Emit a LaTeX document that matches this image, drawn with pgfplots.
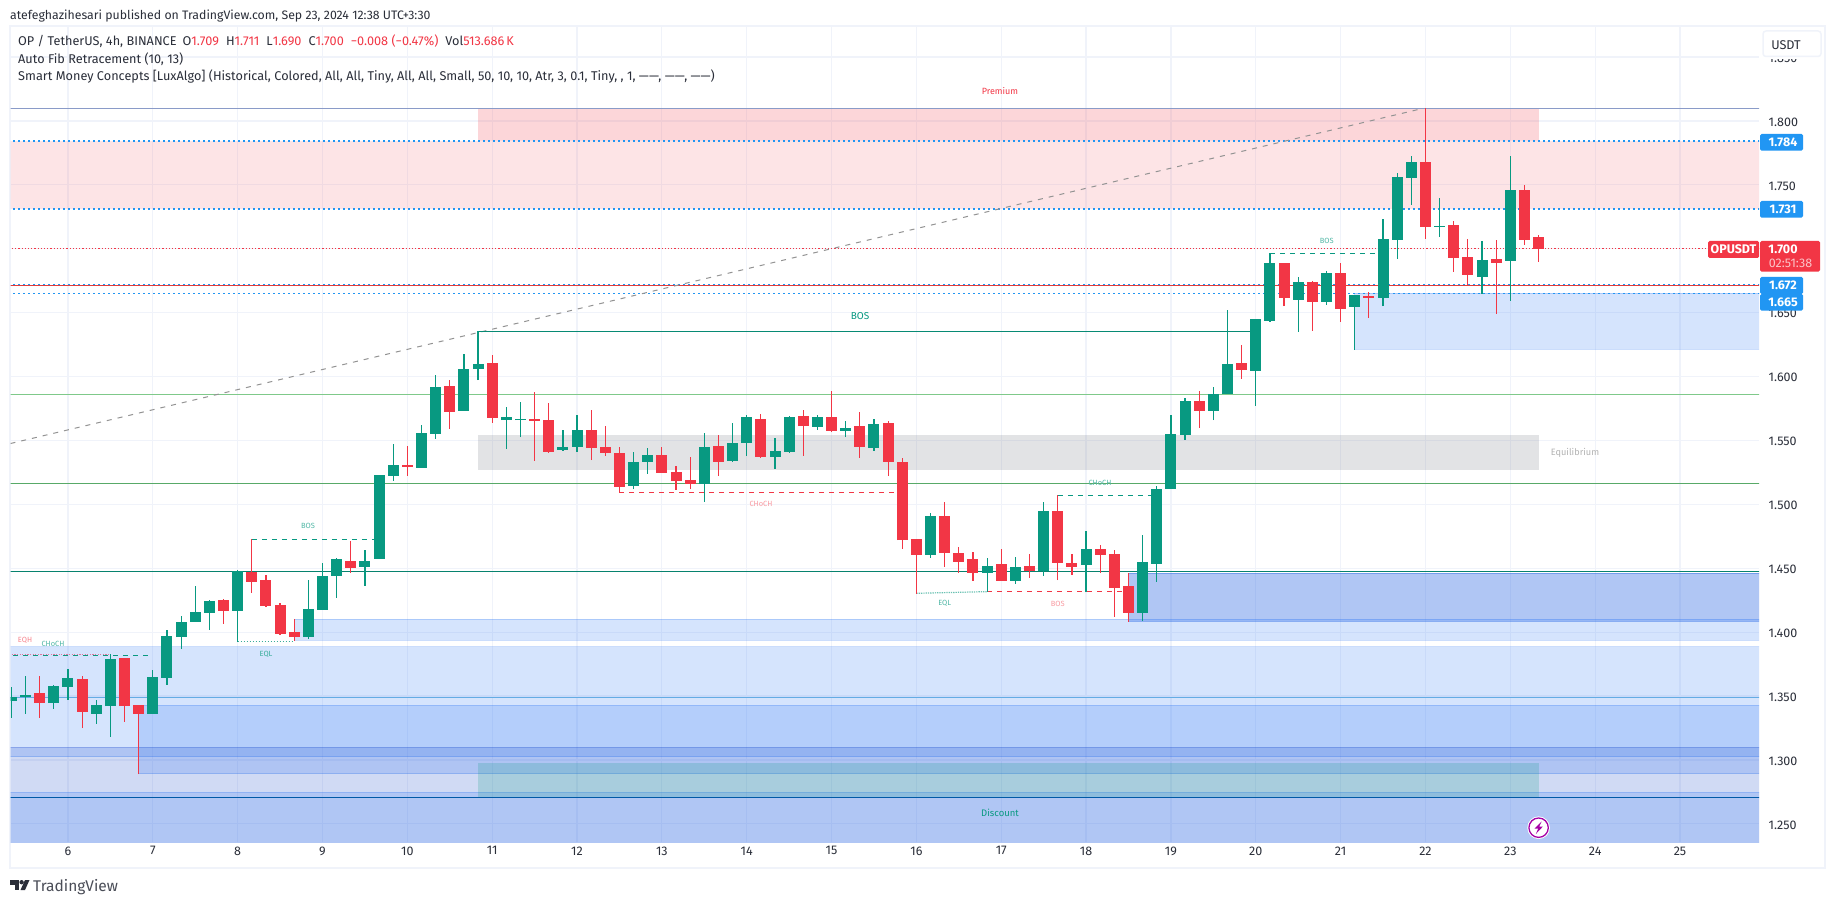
\documentclass[border=0pt]{standalone}
\usepackage{fontspec}
\usepackage{pgfplots}
\usepackage{pgfplotstable}
\pgfplotsset{compat=1.18}
\setmainfont{Fira Sans}

\definecolor{cup}{HTML}{089981}
\definecolor{cdn}{HTML}{F23645}
\definecolor{ob}{HTML}{3179F5}
\definecolor{swing}{HTML}{1848CC}
\definecolor{tvblue}{HTML}{2196F3}
\definecolor{tvgrid}{HTML}{F0F3FA}
\definecolor{tvtext}{HTML}{2A2E39}
\definecolor{eqgray}{HTML}{787B86}

% i = bar index (4h bars), h/l = wick, t/b = top and bottom of body
\pgfplotstableread{
i h l t b
0 1.3571 1.3329 1.3493 1.3462
1 1.3657 1.3360 1.3509 1.3493
3 1.3587 1.3399 1.3579 1.3446
4 1.3712 1.3470 1.3642 1.3571
6 1.3470 1.3282 1.3430 1.3360
7 1.3829 1.3180 1.3790 1.3422
10 1.3704 1.3360 1.3649 1.3360
11 1.4017 1.3587 1.3970 1.3642
12 1.4127 1.3869 1.4080 1.3962
13 1.4362 1.4080 1.4158 1.4080
14 1.4252 1.4017 1.4244 1.4150
16 1.4487 1.3923 1.4479 1.4166
21 1.4408 1.3947 1.4182 1.3962
22 1.4541 1.4174 1.4440 1.4174
23 1.4581 1.4268 1.4573 1.4440
25 1.4643 1.4362 1.4557 1.4510
26 1.5230 1.4573 1.5230 1.4573
27 1.5473 1.5183 1.5308 1.5222
29 1.5621 1.5285 1.5559 1.5285
30 1.6012 1.5512 1.5919 1.5551
32 1.6177 1.5731 1.6059 1.5731
33 1.6354 1.5973 1.6099 1.6059
35 1.5762 1.5433 1.5684 1.5660
36 1.5801 1.5527 1.5668 1.5660
39 1.5582 1.5418 1.5449 1.5426
40 1.5700 1.5410 1.5582 1.5449
44 1.5410 1.5120 1.5332 1.5144
45 1.5441 1.5238 1.5387 1.5332
49 1.5559 1.5019 1.5449 1.5160
51 1.5637 1.5332 1.5480 1.5340
52 1.5700 1.5379 1.5684 1.5480
54 1.5520 1.5277 1.5418 1.5371
55 1.5692 1.5402 1.5684 1.5410
57 1.5700 1.5582 1.5684 1.5606
59 1.5653 1.5527 1.5598 1.5574
61 1.5668 1.5418 1.5629 1.5441
65 1.4933 1.4581 1.4909 1.4604
69 1.4581 1.4317 1.4518 1.4463
71 1.4588 1.4377 1.4510 1.4401
73 1.5019 1.4440 1.4948 1.4476
76 1.4792 1.4317 1.4651 1.4526
80 1.4761 1.4088 1.4549 1.4150
81 1.5144 1.4393 1.5121 1.4534
82 1.5700 1.5121 1.5551 1.5121
83 1.5833 1.5504 1.5809 1.5543
85 1.5919 1.5660 1.5864 1.5731
86 1.6521 1.5864 1.6099 1.5864
88 1.6451 1.5770 1.6451 1.6044
89 1.6965 1.6427 1.6889 1.6435
91 1.6779 1.6349 1.6740 1.6599
93 1.6826 1.6560 1.6811 1.6584
95 1.6639 1.6208 1.6639 1.6545
97 1.7233 1.6552 1.7077 1.6615
98 1.7593 1.6920 1.7562 1.7069
99 1.7726 1.7343 1.7679 1.7554
101 1.7398 1.7092 1.7178 1.7171
104 1.7061 1.6646 1.6912 1.6779
106 1.7726 1.6592 1.7460 1.6905
}\upbars

\pgfplotstableread{
i h l t b
2 1.3657 1.3329 1.3524 1.3446
5 1.3657 1.3250 1.3634 1.3376
8 1.3798 1.3297 1.3798 1.3422
9 1.3430 1.2890 1.3430 1.3360
15 1.4260 1.4064 1.4252 1.4166
17 1.4727 1.4307 1.4474 1.4393
18 1.4448 1.4197 1.4408 1.4205
19 1.4228 1.3978 1.4213 1.3986
20 1.4103 1.3931 1.4002 1.3962
24 1.4714 1.4463 1.4557 1.4502
28 1.5457 1.5222 1.5308 1.5293
31 1.5973 1.5590 1.5926 1.5723
34 1.6169 1.5637 1.6106 1.5676
37 1.5880 1.5340 1.5668 1.5653
38 1.5793 1.5402 1.5660 1.5410
41 1.5739 1.5347 1.5582 1.5441
42 1.5613 1.5379 1.5449 1.5402
43 1.5449 1.5092 1.5402 1.5136
46 1.5449 1.5246 1.5387 1.5246
47 1.5300 1.5113 1.5254 1.5183
48 1.5371 1.5120 1.5191 1.5160
50 1.5543 1.5222 1.5457 1.5332
53 1.5707 1.5363 1.5668 1.5371
56 1.5739 1.5379 1.5692 1.5613
58 1.5887 1.5566 1.5684 1.5574
60 1.5723 1.5363 1.5613 1.5449
62 1.5653 1.5222 1.5637 1.5332
63 1.5363 1.4651 1.5332 1.4721
64 1.4729 1.4302 1.4729 1.4604
66 1.5019 1.4510 1.4909 1.4620
67 1.4667 1.4463 1.4620 1.4549
68 1.4628 1.4401 1.4573 1.4463
70 1.4651 1.4401 1.4534 1.4401
72 1.4612 1.4424 1.4518 1.4476
74 1.5074 1.4408 1.4948 1.4542
75 1.4612 1.4448 1.4542 1.4510
77 1.4682 1.4463 1.4651 1.4604
78 1.4643 1.4119 1.4612 1.4346
79 1.4463 1.4080 1.4362 1.4150
84 1.5887 1.5598 1.5809 1.5731
87 1.6247 1.5981 1.6106 1.6052
90 1.6889 1.6552 1.6889 1.6615
92 1.6748 1.6357 1.6740 1.6584
94 1.6889 1.6427 1.6811 1.6529
96 1.6662 1.6459 1.6631 1.6615
100 1.8099 1.7077 1.7679 1.7171
102 1.7218 1.6819 1.7186 1.6928
103 1.7077 1.6714 1.6936 1.6795
105 1.7069 1.6490 1.6920 1.6889
107 1.7499 1.7030 1.7460 1.7069
108 1.7110 1.6900 1.7090 1.7000
}\downbars

\pgfplotsset{
  zone/.style args={#1/#2}{draw=#1, draw opacity=0.25, fill=#1, fill opacity=#2, line width=1pt, mark=none},
  flat/.style={draw=#1, draw opacity=0, fill=#1, mark=none},
  hline/.style={mark=none, line width=1.2pt},
  wicks/.style={draw=none, mark=none, error bars/.cd, y dir=plus, y explicit, error mark=none,
    error bar style={draw=#1, line width=1.2pt, solid}},
  bodies/.style={draw=none, mark=none, error bars/.cd, y dir=plus, y explicit, error mark=none,
    error bar style={draw=#1, line width=11pt, solid}},
}

\begin{document}
\begin{tikzpicture}[x=1pt,y=1pt]
\path[use as bounding box, fill=white] (0,0) rectangle (1835,903);
\draw[tvgrid, line width=2pt] (10,35) rectangle (1825,877);

\begin{axis}[
    at={(10.5pt,61pt)}, anchor=south west,
    scale only axis, width=1748.5pt, height=816pt,
    xmin=-0.066, xmax=123.59, ymin=1.2358, ymax=1.8743,
    axis line style={draw=none},
    tick style={draw=none},
    grid=major,
    grid style={draw=tvgrid, line width=1.2pt},
    xtick={4,10,16,22,28,34,40,46,52,58,64,70,76,82,88,94,100,106,112,118},
    xticklabels={6,7,8,9,10,11,12,13,14,15,16,17,18,19,20,21,22,23,24,25},
    ytick={1.25,1.30,1.35,1.40,1.45,1.50,1.55,1.60,1.65,1.70,1.75,1.80,1.85},
    yticklabel pos=right,
    ticklabel style={font=\fontsize{12.5}{14}\selectfont, text=tvtext},
    xticklabel style={yshift=-1pt},
    yticklabel style={anchor=west, inner sep=0pt, xshift=9.5pt, yshift=-1pt,
      /pgf/number format/.cd, fixed, fixed zerofill, precision=3, assume math mode=true},
]
% premium / equilibrium / discount
\addplot[flat=cdn, fill opacity=0.2] coordinates {(33,1.8099)(108,1.8099)(108,1.784)(33,1.784)} --cycle;
\addplot[flat=cdn, fill opacity=0.13] coordinates {(-2,1.784)(126,1.784)(126,1.731)(-2,1.731)} --cycle;
\addplot[flat=eqgray, fill opacity=0.21] coordinates {(33,1.5543)(108,1.5543)(108,1.5269)(33,1.5269)} --cycle;
% order blocks
\addplot[zone=ob/0.2] coordinates {(95,1.665)(126,1.665)(126,1.6214)(95,1.6214)} --cycle;
\addplot[zone=swing/0.2] coordinates {(79,1.4461)(126,1.4461)(126,1.4085)(79,1.4085)} --cycle;
\addplot[zone=ob/0.2] coordinates {(79,1.4461)(126,1.4461)(126,1.4085)(79,1.4085)} --cycle;
\addplot[zone=ob/0.2] coordinates {(20,1.4101)(126,1.4101)(126,1.3936)(20,1.3936)} --cycle;
\addplot[zone=ob/0.2] coordinates {(-2,1.3884)(126,1.3884)(126,1.3026)(-2,1.3026)} --cycle;
\addplot[zone=ob/0.2] coordinates {(9,1.3428)(126,1.3428)(126,1.2893)(9,1.2893)} --cycle;
\addplot[zone=swing/0.2] coordinates {(-2,1.3099)(126,1.3099)(126,1.20)(-2,1.20)} --cycle;
\addplot[zone=ob/0.2] coordinates {(-2,1.2747)(126,1.2747)(126,1.20)(-2,1.20)} --cycle;
\addplot[flat=cup, fill opacity=0.2] coordinates {(33,1.2977)(108,1.2977)(108,1.2711)(33,1.2711)} --cycle;

% full width levels
\addplot[mark=none, color=cdn, line width=1pt, dash pattern=on 1.2pt off 2pt] coordinates {(-2,1.700)(126,1.700)};
\addplot[mark=none, color=tvblue, line width=1.8pt, dash pattern=on 2pt off 3pt] coordinates {(-2,1.784)(126,1.784)};
\addplot[mark=none, color=tvblue, line width=1.8pt, dash pattern=on 2pt off 3pt] coordinates {(-2,1.731)(126,1.731)};
\addplot[mark=none, color=tvblue, line width=1.8pt, dash pattern=on 2pt off 3pt] coordinates {(-2,1.672)(126,1.672)};
\addplot[mark=none, color=tvblue, line width=1.8pt, dash pattern=on 2pt off 3pt] coordinates {(-2,1.665)(126,1.665)};
\addplot[hline, color={rgb,255:red,138;green,155;blue,200}, line width=1.4pt] coordinates {(-2,1.8099)(126,1.8099)};
\addplot[hline, color={rgb,255:red,226;green,60;blue,58}] coordinates {(-2,1.6710)(126,1.6710)};
\addplot[hline, color={rgb,255:red,127;green,201;blue,138}] coordinates {(-2,1.5861)(126,1.5861)};
\addplot[hline, color={rgb,255:red,88;green,170;blue,104}] coordinates {(-2,1.5165)(126,1.5165)};
\addplot[hline, color=cup!85!black] coordinates {(-2,1.4476)(126,1.4476)};
\addplot[hline, color={rgb,255:red,100;green,172;blue,228}] coordinates {(-2,1.3490)(126,1.3490)};
\addplot[hline, color=teal!70!blue] coordinates {(-2,1.2708)(126,1.2708)};

% fib trend line
\addplot[mark=none, color=gray!85, line width=1pt, dash pattern=on 5pt off 6pt] coordinates {(-0.066,1.5476)(99.66,1.8094)};

% structure
\addplot[hline, color=cup!90!black] coordinates {(33,1.6354)(88,1.6354)};
\addplot[mark=none, color=cup, line width=1.1pt, dash pattern=on 5pt off 5pt] coordinates {(17,1.4727)(26,1.4727)};
\addplot[mark=none, color=cup, line width=1.1pt, dash pattern=on 5pt off 5pt] coordinates {(-2,1.3814)(10,1.3814)};
\addplot[mark=none, color=cdn!60!violet!60!white, line width=1.2pt, dash pattern=on 1.3pt off 1.3pt] coordinates {(-2,1.3827)(7,1.3827)};
\addplot[mark=none, color=cup!80!white, line width=1pt, dash pattern=on 1.3pt off 1.7pt] coordinates {(16,1.3926)(20,1.3926)};
\addplot[mark=none, color=cdn, line width=1.1pt, dash pattern=on 5pt off 5pt] coordinates {(43,1.5092)(63,1.5092)};
\addplot[mark=none, color=cup!60!white, line width=1.2pt, dash pattern=on 1.3pt off 1pt] coordinates {(64,1.4304)(69,1.4317)};
\addplot[mark=none, color=cdn, line width=1.1pt, dash pattern=on 5pt off 5pt] coordinates {(69,1.4320)(79,1.4320)};
\addplot[mark=none, color=cup, line width=1.1pt, dash pattern=on 5pt off 5pt] coordinates {(74,1.5071)(81,1.5071)};
\addplot[mark=none, color=cup, line width=1.1pt, dash pattern=on 5pt off 5pt] coordinates {(89,1.6965)(97,1.6965)};

% candles
\addplot[wicks=cup] table[x=i, y=l, y error plus expr=\thisrow{h}-\thisrow{l}] {\upbars};
\addplot[wicks=cdn] table[x=i, y=l, y error plus expr=\thisrow{h}-\thisrow{l}] {\downbars};
\addplot[bodies=cup] table[x=i, y=b, y error plus expr=\thisrow{t}-\thisrow{b}] {\upbars};
\addplot[bodies=cdn] table[x=i, y=b, y error plus expr=\thisrow{t}-\thisrow{b}] {\downbars};
\end{axis}

% overlays, in pixels of the reference, origin top left
\begin{scope}[x=1pt, y=-1pt, shift={(0pt,903pt)}]
  \tikzset{
    txt/.style={anchor=base west, inner sep=0pt, font=\fontsize{12.7}{14}\selectfont, text=tvtext},
    tiny/.style={anchor=center, inner sep=0pt, font=\fontsize{7.5}{9}\selectfont},
    plab/.style={anchor=center, inner sep=0pt, font=\fontsize{12.5}{14}\selectfont\bfseries, text=white},
  }
  \node[txt, font=\fontsize{12.3}{14}\selectfont] at (10,19.5) {atefeghazihesari published on TradingView.com, Sep 23, 2024 12:38 UTC+3:30};
  \node[txt] at (18,46) {OP / TetherUS, 4h, BINANCE\hspace{6pt}O\textcolor{cdn}{1.709}\hspace{7pt}H\textcolor{cdn}{1.711}\hspace{7pt}L\textcolor{cdn}{1.690}\hspace{7pt}C\textcolor{cdn}{1.700}\hspace{7pt}\textcolor{cdn}{−0.008 (−0.47\%)}\hspace{7pt}Vol\textcolor{cdn}{513.686\,K}};
  \node[txt] at (18,63.5) {Auto Fib Retracement (10, 13)};
  \node[txt] at (18,80.5) {Smart Money Concepts [LuxAlgo] (Historical, Colored, All, All, Tiny, All, All, Small, 50, 10, 10, Atr, 3, 0.1, Tiny, , 1, ——, ——, ——)};

  % chart labels
  \node[tiny, text=cdn, font=\fontsize{9}{10}\selectfont] at (1000,91.5) {Premium};
  \node[tiny, text=cup, font=\fontsize{9.5}{11}\selectfont] at (1000,812.5) {Discount};
  \node[tiny, text=gray!60, font=\fontsize{9.2}{11}\selectfont] at (1575,453) {Equilibrium};
  \node[tiny, text=cup, font=\fontsize{10}{11}\selectfont] at (860,316) {BOS};
  \node[tiny, text=cup!70!white] at (308,526) {BOS};
  \node[tiny, text=cdn!60!white] at (25,640) {EQH};
  \node[tiny, text=cup!70!white] at (53,644) {CHoCH};
  \node[tiny, text=cup!80!white] at (266,654) {EQL};
  \node[tiny, text=cdn!50!white] at (761,503.7) {CHoCH};
  \node[tiny, text=cup!70!white] at (944.7,603.7) {EQL};
  \node[tiny, text=cdn!50!white] at (1057.7,603.7) {BOS};
  \node[tiny, text=cup!70!white] at (1100,483) {CHoCH};
  \node[tiny, text=cup!70!white] at (1326.7,240.7) {BOS};

  % price scale labels
  \fill[rounded corners=1.5pt, tvblue] (1760,134) rectangle (1803,150.7);
  \fill[rounded corners=1.5pt, tvblue] (1760,201) rectangle (1803,217.7);
  \fill[rounded corners=1.5pt, tvblue] (1760,277) rectangle (1803,294);
  \fill[rounded corners=1.5pt, tvblue] (1760,294) rectangle (1803,310.7);
  \node[plab] at (1783,142.5) {1.784};
  \node[plab] at (1783,209.5) {1.731};
  \node[plab] at (1783,285.5) {1.672};
  \node[plab] at (1783,302.5) {1.665};
  \fill[rounded corners=1.5pt, cdn] (1708,241) rectangle (1759,258);
  \node[plab] at (1733.5,249.5) {OPUSDT};
  \fill[rounded corners=1.5pt, cdn] (1760,241) rectangle (1820,271.7);
  \node[plab] at (1783,249.5) {1.700};
  \node[plab, text=white!70!cdn, font=\fontsize{12.5}{14}\selectfont] at (1790.5,263.5) {02:51:38};

  % currency button, hides most of the 1.850 tick label
  \fill[white] (1760,27) rectangle (1823,59.5);
  \draw[rounded corners=3pt, tvgrid, fill=white, line width=1.5pt] (1763,31) rectangle (1821,56.5);
  \node[txt, anchor=center] at (1786,44.7) {USDT};

  % bolt marker
  \fill[white] (1538.6,827.7) circle (11.3);
  \draw[violet!70!magenta, line width=1.3pt] (1538.6,827.7) circle (9.7);
  \fill[violet!70!magenta] (1541.6,821.5) -- (1534.6,828.6) -- (1538.2,828.6) -- (1535.8,834) -- (1542.8,826.6) -- (1539.2,826.6) -- cycle;

  % footer logo
  \fill[tvtext] (10,880) rectangle (19.3,884.5);
  \fill[tvtext] (14.6,880) rectangle (19.3,890);
  \fill[tvtext] (21.6,882.2) circle (2.2);
  \fill[tvtext] (25,880) -- (29.5,880) -- (25,890) -- (20.5,890) -- cycle;
  \node[txt, font=\fontsize{15.5}{18}\selectfont, text=tvtext!85!white] at (33,891) {TradingView};
\end{scope}
\end{tikzpicture}
\end{document}
